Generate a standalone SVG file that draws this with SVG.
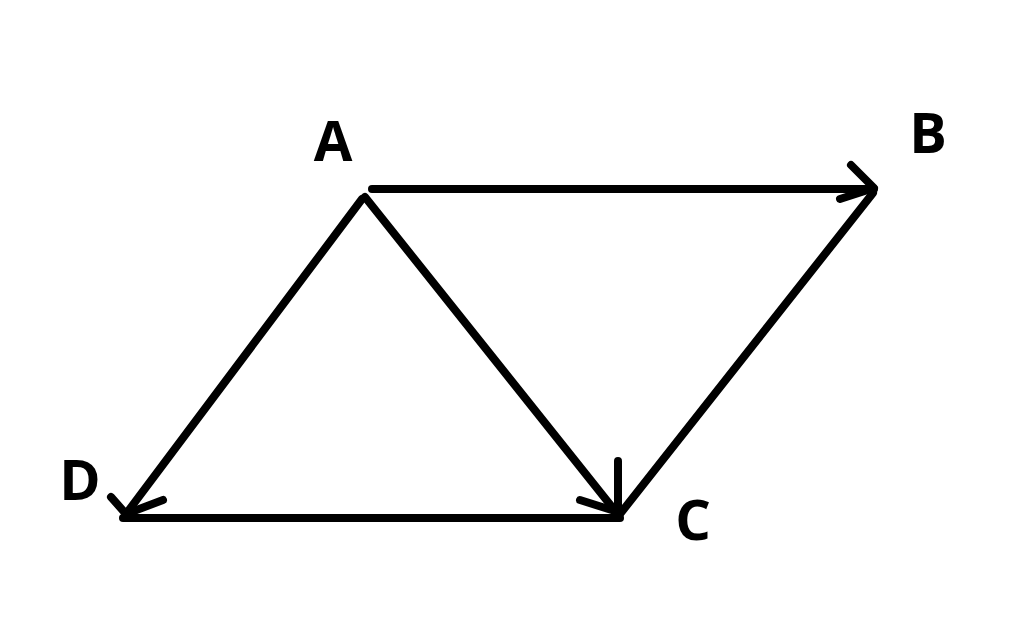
<svg xmlns="http://www.w3.org/2000/svg" width="1024" height="637" viewBox="0 0 1024 637">
<style>
.l{fill:none;stroke:#000;stroke-width:8;stroke-linecap:round;stroke-linejoin:round}
.t{font-family:"Open Sans","Liberation Sans",sans-serif;font-weight:bold;font-size:56px;fill:#000;text-anchor:middle}
</style>
<rect width="1024" height="637" fill="#fff"/>
<g id="connectors">
<path class="l" d="M372 189 L874 189"/>
<path class="l" d="M851 165 L874 188 L840 199"/>
<path class="l" d="M873 193 L620 514"/>
<path class="l" d="M365 197 L616 512"/>
<path class="l" d="M618 461 L618 512 L580 500"/>
<path class="l" d="M362 199 L126 514"/>
<path class="l" d="M111 497 L126 514 L163 500"/>
<path class="l" d="M123 518 L620 518"/>
</g>
<g id="A"><text class="t" x="333" y="161">A</text></g>
<g id="B"><text class="t" x="928" y="153">B</text></g>
<g id="C"><text class="t" x="693" y="540">C</text></g>
<g id="D"><text class="t" x="80" y="500">D</text></g>
</svg>
